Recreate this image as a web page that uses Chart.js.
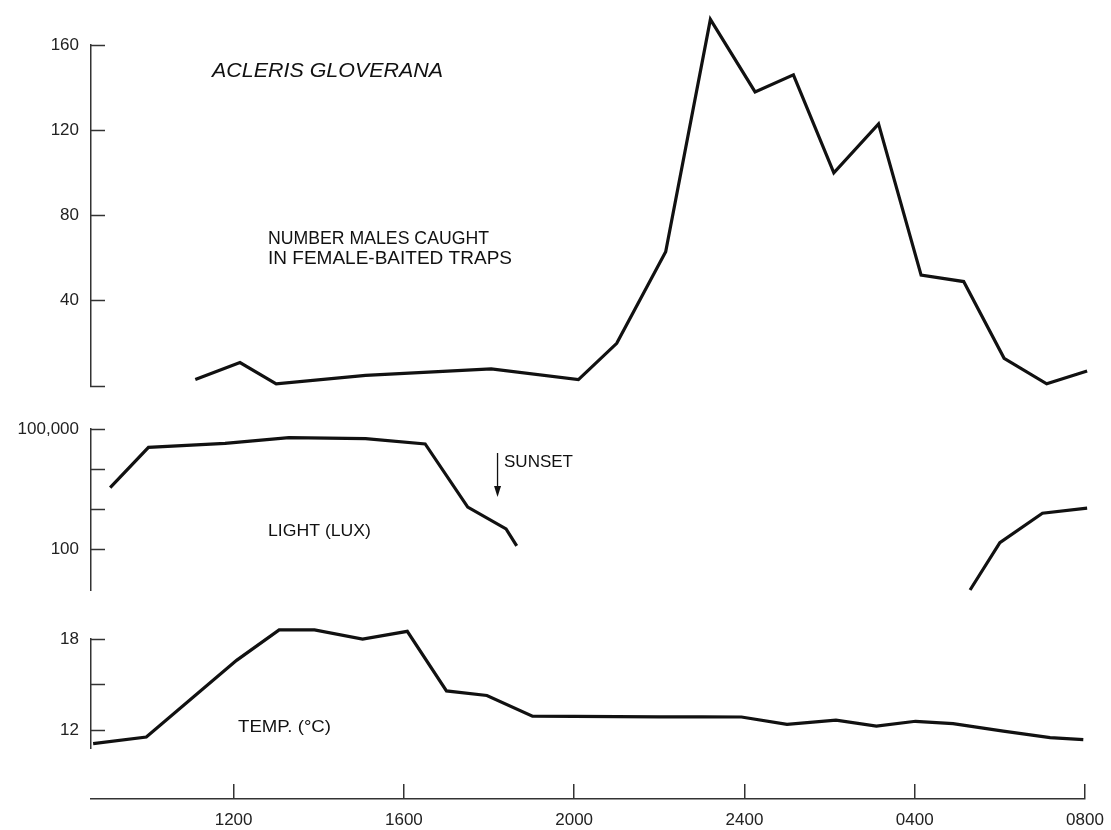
<!DOCTYPE html>
<html>
<head>
<meta charset="utf-8">
<title>Acleris gloverana</title>
<script src="https://cdn.jsdelivr.net/npm/chart.js@4.4.1/dist/chart.umd.min.js"></script>
<style>
  html, body { margin: 0; padding: 0; background: #fff; }
  #wrap { position: relative; width: 1111px; height: 830px; overflow: hidden; background: #fff; }
  canvas { position: absolute; left: 0; }
</style>
</head>
<body>
<div id="wrap">
  <canvas id="catch" width="1111" height="426" style="top:0px"></canvas>
  <canvas id="light" width="1111" height="241" style="top:389px"></canvas>
  <canvas id="temp" width="1111" height="189" style="top:599px"></canvas>
  <canvas id="time" width="1140" height="60" style="top:770px"></canvas>
</div>
<script>
// time axis: hours from midnight of the first day (32 = 0800 next morning)
const xMin = 8.65, xMax = 32;
const timeTicks = [12, 16, 20, 24, 28, 32];
const timeLabels = ['1200', '1600', '2000', '2400', '0400', '0800'];

// males caught in female-baited traps
const catchHours = [11.1, 12.15, 13, 15.1, 18.05, 20.1, 21, 22.15, 23.2, 24.25, 25.15, 26.1, 27.15, 28.15, 29.15, 30.1, 31.1, 32.05];
const catchCounts = [3, 11, 1, 5, 8, 3, 20, 63, 172, 138, 146, 100, 123, 52, 49, 13, 1, 7];
const catchTicks = [0, 40, 80, 120, 160];
const catchTickLabels = ['', '40', '80', '120', '160'];

// light (lux), evening and dawn pieces
const lightDayHours = [9.1, 10, 11.8, 13.3, 15.1, 16.5, 17.5, 18.4, 18.65];
const lightDayLux = [3500, 35000, 44000, 61000, 57500, 42500, 1150, 330, 125];
const lightDawnHours = [29.3, 30, 31, 32.05];
const lightDawnLux = [10, 150, 810, 1080];
const luxTicks = [100, 1000, 10000, 100000];
const luxTickLabels = ['100', '', '', '100,000'];
const sunsetHour = 18.2;

// temperature (°C)
const tempHours = [8.7, 9.95, 12.07, 13.07, 13.9, 15.03, 16.08, 17, 17.95, 19.02, 20, 21, 22, 23, 23.93, 25, 26.15, 27.1, 28.02, 28.9, 30.08, 31.18, 31.96];
const tempValues = [11.15, 11.58, 16.6, 18.6, 18.6, 18.0, 18.5, 14.6, 14.3, 12.95, 12.93, 12.92, 12.9, 12.9, 12.89, 12.41, 12.68, 12.3, 12.61, 12.46, 11.97, 11.54, 11.41];
const tempTicks = [12, 15, 18];
const tempTickLabels = ['12', '', '18'];

const FONT = 'Liberation Sans';
const INK = '#111';

function points(xs, ys) {
  return xs.map((x, i) => ({ x: x, y: ys[i] }));
}

function lineSet(data) {
  return {
    data: data,
    borderColor: INK,
    borderWidth: 3.2,
    pointRadius: 0,
    tension: 0,
    fill: false,
    clip: false,
    borderJoinStyle: 'miter'
  };
}

function yAxis(type, min, max, ticks, labels) {
  return {
    type: type,
    min: min,
    max: max,
    afterFit: s => { s.width = 91; },
    afterBuildTicks: s => { s.ticks = ticks.map(v => ({ value: v })); },
    ticks: {
      autoSkip: false,
      padding: 26,
      color: '#222',
      font: { family: FONT, size: 17 },
      callback: (v, i) => labels[i]
    },
    // negative tick length -> tick marks point inward, like the original
    grid: { drawOnChartArea: false, drawTicks: true, tickLength: -14, tickColor: '#333', tickWidth: 1.5 },
    border: { display: true, color: '#333', width: 1.5 }
  };
}

// text notes drawn on the canvas (page coords, shifted by the canvas top)
function notes(top, items, extra) {
  return {
    id: 'notes',
    afterDraw(chart) {
      const ctx = chart.ctx;
      items.forEach(n => {
        ctx.save();
        ctx.font = (n.italic ? 'italic ' : '') + n.size + 'px "' + FONT + '"';
        ctx.fillStyle = INK;
        ctx.textBaseline = 'middle';
        ctx.textAlign = 'left';
        const w = ctx.measureText(n.text).width;
        ctx.translate(n.x, n.y - top);
        ctx.scale(n.w / w, 1);
        ctx.fillText(n.text, 0, 0);
        ctx.restore();
      });
      if (extra) extra(chart, top);
    }
  };
}

function baseOptions(padTop, padBottom, yScale) {
  return {
    responsive: false,
    animation: false,
    layout: { padding: { top: padTop, bottom: padBottom, left: 0, right: 26 } },
    plugins: { legend: { display: false }, tooltip: { enabled: false } },
    scales: {
      x: { type: 'linear', min: xMin, max: xMax, display: false },
      y: yScale
    }
  };
}

// top panel: trap catch
new Chart(document.getElementById('catch'), {
  type: 'line',
  data: { datasets: [lineSet(points(catchHours, catchCounts))] },
  options: baseOptions(45, 40, yAxis('linear', 0, 160, catchTicks, catchTickLabels)),
  plugins: [notes(0, [
    { text: 'ACLERIS GLOVERANA', x: 212, y: 72, size: 19.5, w: 231, italic: true },
    { text: 'NUMBER MALES CAUGHT', x: 268, y: 239, size: 17.5, w: 221 },
    { text: 'IN FEMALE-BAITED TRAPS', x: 268, y: 259, size: 17.5, w: 244 }
  ])]
});

// middle panel: light
new Chart(document.getElementById('light'), {
  type: 'line',
  data: { datasets: [
    lineSet(points(lightDayHours, lightDayLux)),
    lineSet(points(lightDawnHours, lightDawnLux))
  ] },
  options: baseOptions(40, 40, yAxis('logarithmic', 10, 100000, luxTicks, luxTickLabels)),
  plugins: [notes(389, [
    { text: 'LIGHT (LUX)', x: 268, y: 531, size: 16.5, w: 103 },
    { text: 'SUNSET', x: 504, y: 462, size: 17, w: 69 }
  ], (chart, top) => {
    // sunset arrow
    const ctx = chart.ctx;
    const x = chart.scales.x.getPixelForValue(sunsetHour);
    ctx.save();
    ctx.strokeStyle = INK;
    ctx.fillStyle = INK;
    ctx.lineWidth = 1.3;
    ctx.beginPath();
    ctx.moveTo(x, 453 - top);
    ctx.lineTo(x, 488 - top);
    ctx.stroke();
    ctx.beginPath();
    ctx.moveTo(x - 3.5, 486 - top);
    ctx.lineTo(x + 3.5, 486 - top);
    ctx.lineTo(x, 497 - top);
    ctx.closePath();
    ctx.fill();
    ctx.restore();
  })]
});

// lower panel: temperature
new Chart(document.getElementById('temp'), {
  type: 'line',
  data: { datasets: [lineSet(points(tempHours, tempValues))] },
  options: baseOptions(40, 40, yAxis('linear', 10.86, 18, tempTicks, tempTickLabels)),
  plugins: [notes(599, [
    { text: 'TEMP. (°C)', x: 238, y: 727, size: 16.5, w: 93 }
  ])]
});

// shared time axis at the bottom (canvas a bit wider so the last label fits)
new Chart(document.getElementById('time'), {
  type: 'line',
  data: { datasets: [] },
  options: {
    responsive: false,
    animation: false,
    layout: { padding: { top: 14, bottom: 0, left: 91, right: 55 } },
    plugins: { legend: { display: false }, tooltip: { enabled: false } },
    scales: {
      x: {
        type: 'linear',
        min: xMin,
        max: xMax,
        afterFit: s => { s.height = 31; },
        afterBuildTicks: s => { s.ticks = timeTicks.map(v => ({ value: v })); },
        ticks: {
          autoSkip: false,
          maxRotation: 0,
          padding: 11,
          color: '#222',
          font: { family: FONT, size: 17 },
          callback: (v, i) => timeLabels[i]
        },
        grid: { drawOnChartArea: true, drawTicks: false, color: '#333', lineWidth: 1.5 },
        border: { display: true, color: '#333', width: 1.5 }
      },
      y: { display: false, min: 0, max: 1 }
    }
  }
});
</script>
</body>
</html>
